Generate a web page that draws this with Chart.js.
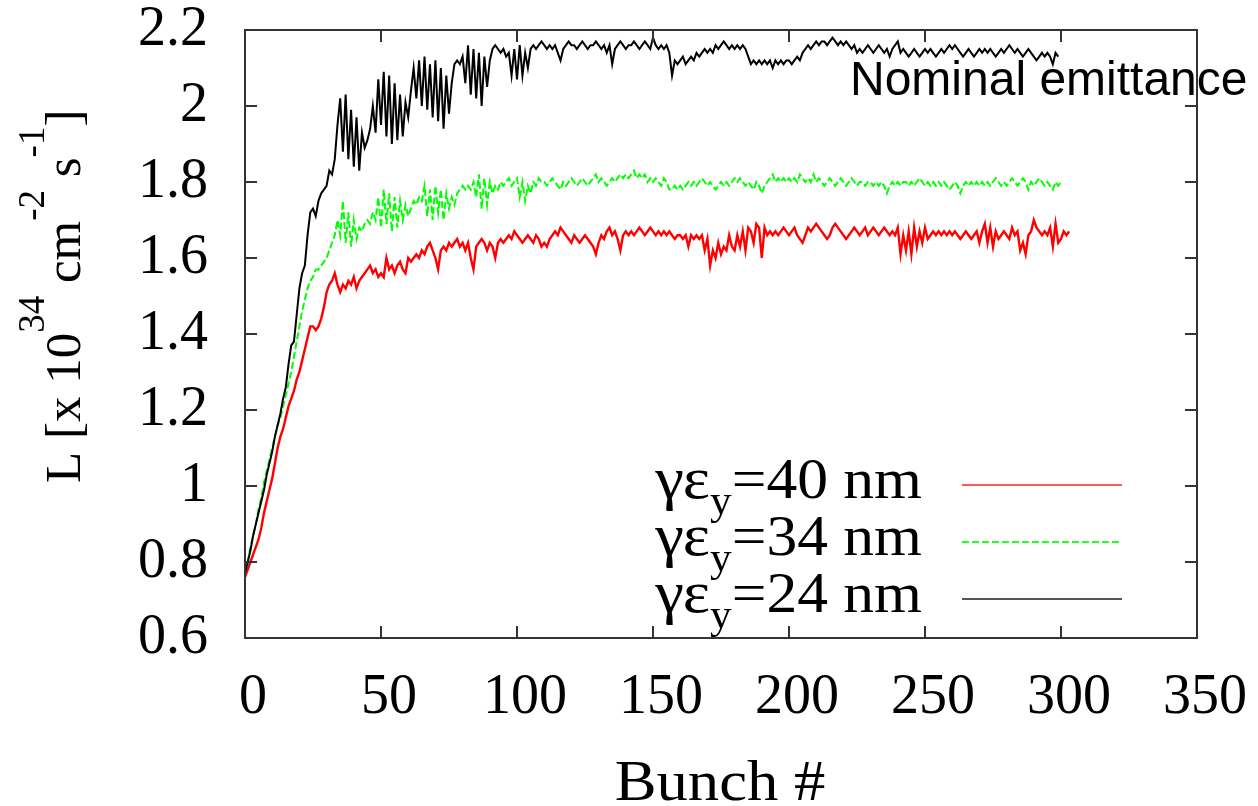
<!DOCTYPE html>
<html>
<head>
<meta charset="utf-8">
<script src="https://cdn.jsdelivr.net/npm/chart.js@4.4.0/dist/chart.umd.min.js"></script>
<style>
  html, body { margin: 0; padding: 0; background: #fff; }
  #wrap { width: 1258px; height: 806px; }
</style>
</head>
<body>
<div id="wrap"><canvas id="myChart" width="1258" height="806"></canvas></div>
<script>
// bunch number = index in each series
const xTicks = [0, 50, 100, 150, 200, 250, 300, 350];
const yTicks = [0.6, 0.8, 1.0, 1.2, 1.4, 1.6, 1.8, 2.0, 2.2];

const seriesLabels = ['40', '34', '24'];

// gamma eps_y = 24 nm (nominal emittance), bunches 0..299
const lum24 = [
  0.77, 0.80, 0.83, 0.87, 0.90, 0.93, 0.96, 0.99, 1.03, 1.06,
  1.09, 1.13, 1.16, 1.19, 1.23, 1.26, 1.32, 1.37, 1.38, 1.45,
  1.52, 1.56, 1.58, 1.66, 1.72, 1.73, 1.71, 1.75, 1.77, 1.78,
  1.79, 1.83, 1.82, 1.86, 1.95, 2.02, 1.88, 2.03, 1.86, 1.99,
  1.84, 1.97, 1.83, 1.93, 1.89, 1.91, 1.94, 2.00, 1.93, 2.07,
  1.95, 2.09, 1.92, 2.08, 1.90, 2.06, 1.91, 2.03, 1.92, 2.01,
  1.97, 2.04, 2.10, 2.02, 2.12, 2.00, 2.13, 1.99, 2.11, 1.97,
  2.12, 1.96, 2.10, 1.94, 2.08, 1.98, 2.06, 2.11, 2.12, 2.11,
  2.13, 2.06, 2.16, 2.03, 2.15, 2.02, 2.14, 2.00, 2.13, 2.05,
  2.12, 2.15, 2.16, 2.15, 2.14, 2.15, 2.13, 2.14, 2.08, 2.15,
  2.07, 2.16, 2.08, 2.14, 2.10, 2.15, 2.16, 2.15, 2.16, 2.17,
  2.16, 2.15, 2.16, 2.15, 2.16, 2.14, 2.12, 2.15, 2.16, 2.17,
  2.16, 2.16, 2.15, 2.16, 2.17, 2.16, 2.15, 2.16, 2.16, 2.17,
  2.16, 2.15, 2.16, 2.14, 2.16, 2.11, 2.15, 2.16, 2.17, 2.16,
  2.15, 2.16, 2.16, 2.17, 2.16, 2.15, 2.16, 2.17, 2.16, 2.15,
  2.18, 2.16, 2.15, 2.16, 2.15, 2.16, 2.14, 2.08, 2.12, 2.11,
  2.12, 2.13, 2.11, 2.12, 2.13, 2.12, 2.14, 2.13, 2.14, 2.15,
  2.14, 2.15, 2.14, 2.16, 2.15, 2.16, 2.17, 2.16, 2.15, 2.16,
  2.15, 2.16, 2.15, 2.16, 2.15, 2.13, 2.11, 2.12, 2.11, 2.12,
  2.11, 2.12, 2.11, 2.12, 2.10, 2.12, 2.11, 2.12, 2.11, 2.12,
  2.12, 2.11, 2.12, 2.13, 2.12, 2.14, 2.15, 2.16, 2.15, 2.16,
  2.17, 2.16, 2.17, 2.17, 2.16, 2.17, 2.18, 2.17, 2.16, 2.17,
  2.16, 2.17, 2.16, 2.15, 2.16, 2.14, 2.15, 2.14, 2.15, 2.16,
  2.15, 2.14, 2.15, 2.16, 2.15, 2.14, 2.15, 2.13, 2.15, 2.16,
  2.17, 2.14, 2.15, 2.14, 2.13, 2.14, 2.15, 2.14, 2.13, 2.14,
  2.15, 2.14, 2.15, 2.14, 2.13, 2.14, 2.15, 2.14, 2.15, 2.16,
  2.15, 2.16, 2.15, 2.14, 2.13, 2.14, 2.15, 2.14, 2.13, 2.14,
  2.15, 2.14, 2.15, 2.14, 2.15, 2.14, 2.13, 2.14, 2.15, 2.14,
  2.15, 2.16, 2.15, 2.14, 2.15, 2.14, 2.13, 2.14, 2.15, 2.14,
  2.13, 2.12, 2.13, 2.14, 2.13, 2.14, 2.13, 2.11, 2.14, 2.13
];

// gamma eps_y = 34 nm, bunches 0..300
const lum34 = [
  0.77, 0.80, 0.84, 0.87, 0.90, 0.94, 0.97, 1.01, 1.04, 1.07,
  1.10, 1.13, 1.16, 1.18, 1.21, 1.24, 1.27, 1.30, 1.34, 1.38,
  1.42, 1.46, 1.49, 1.52, 1.54, 1.55, 1.57, 1.57, 1.58, 1.59,
  1.60, 1.62, 1.64, 1.66, 1.70, 1.66, 1.75, 1.64, 1.72, 1.63,
  1.70, 1.65, 1.68, 1.67, 1.69, 1.70, 1.69, 1.72, 1.70, 1.76,
  1.68, 1.78, 1.69, 1.77, 1.67, 1.76, 1.68, 1.75, 1.70, 1.74,
  1.71, 1.73, 1.75, 1.74, 1.76, 1.75, 1.79, 1.71, 1.78, 1.70,
  1.79, 1.72, 1.78, 1.70, 1.77, 1.73, 1.76, 1.74, 1.77, 1.78,
  1.79, 1.78, 1.79, 1.78, 1.80, 1.76, 1.82, 1.73, 1.81, 1.74,
  1.80, 1.77, 1.79, 1.78, 1.80, 1.79, 1.80, 1.81, 1.79, 1.80,
  1.81, 1.76, 1.80, 1.75, 1.79, 1.77, 1.80, 1.79, 1.81, 1.80,
  1.80, 1.79, 1.80, 1.81, 1.80, 1.79, 1.78, 1.80, 1.79, 1.80,
  1.81, 1.80, 1.79, 1.80, 1.81, 1.80, 1.79, 1.80, 1.81, 1.82,
  1.80, 1.81, 1.80, 1.79, 1.80, 1.81, 1.80, 1.81, 1.82, 1.81,
  1.82, 1.81, 1.82, 1.83, 1.81, 1.82, 1.81, 1.82, 1.80, 1.81,
  1.80, 1.81, 1.80, 1.79, 1.81, 1.80, 1.78, 1.78, 1.79, 1.78,
  1.79, 1.78, 1.79, 1.80, 1.79, 1.80, 1.79, 1.80, 1.81, 1.80,
  1.79, 1.80, 1.79, 1.78, 1.79, 1.80, 1.79, 1.80, 1.79, 1.80,
  1.81, 1.80, 1.81, 1.80, 1.79, 1.80, 1.79, 1.78, 1.80, 1.79,
  1.77, 1.79, 1.80, 1.81, 1.82, 1.80, 1.81, 1.80, 1.81, 1.80,
  1.81, 1.80, 1.81, 1.80, 1.82, 1.81, 1.80, 1.81, 1.80, 1.82,
  1.80, 1.81, 1.80, 1.79, 1.80, 1.81, 1.80, 1.79, 1.80, 1.81,
  1.80, 1.79, 1.80, 1.81, 1.80, 1.79, 1.80, 1.80, 1.79, 1.80,
  1.80, 1.79, 1.80, 1.79, 1.80, 1.79, 1.77, 1.79, 1.80, 1.79,
  1.80, 1.79, 1.80, 1.80, 1.79, 1.80, 1.79, 1.80, 1.81, 1.80,
  1.79, 1.80, 1.79, 1.80, 1.79, 1.80, 1.79, 1.80, 1.79, 1.78,
  1.79, 1.80, 1.79, 1.77, 1.79, 1.80, 1.79, 1.80, 1.79, 1.80,
  1.79, 1.80, 1.79, 1.80, 1.79, 1.80, 1.81, 1.80, 1.79, 1.80,
  1.79, 1.80, 1.81, 1.80, 1.79, 1.80, 1.81, 1.80, 1.78, 1.80,
  1.79, 1.80, 1.81, 1.80, 1.79, 1.80, 1.79, 1.78, 1.80, 1.79,
  1.80
];

// gamma eps_y = 40 nm, bunches 0..303
const lum40 = [
  0.76, 0.78, 0.80, 0.82, 0.84, 0.86, 0.89, 0.93, 0.96, 0.99,
  1.02, 1.06, 1.10, 1.13, 1.15, 1.18, 1.21, 1.23, 1.25, 1.28,
  1.30, 1.33, 1.36, 1.39, 1.42, 1.42, 1.41, 1.42, 1.44, 1.47,
  1.51, 1.53, 1.54, 1.56, 1.53, 1.51, 1.53, 1.52, 1.54, 1.53,
  1.55, 1.52, 1.54, 1.55, 1.56, 1.57, 1.58, 1.56, 1.57, 1.55,
  1.56, 1.55, 1.60, 1.57, 1.58, 1.56, 1.58, 1.59, 1.57, 1.56,
  1.60, 1.59, 1.60, 1.61, 1.60, 1.62, 1.61, 1.63, 1.64, 1.62,
  1.60, 1.57, 1.62, 1.63, 1.62, 1.64, 1.63, 1.64, 1.65, 1.63,
  1.64, 1.62, 1.64, 1.60, 1.57, 1.63, 1.64, 1.65, 1.64, 1.62,
  1.64, 1.63, 1.60, 1.64, 1.65, 1.64, 1.65, 1.66, 1.65, 1.67,
  1.66, 1.65, 1.64, 1.65, 1.66, 1.65, 1.64, 1.66, 1.65, 1.63,
  1.64, 1.63, 1.65, 1.66, 1.67, 1.66, 1.68, 1.67, 1.66, 1.65,
  1.64, 1.66, 1.65, 1.64, 1.65, 1.66, 1.65, 1.64, 1.63, 1.61,
  1.64, 1.66, 1.65, 1.67, 1.68, 1.66, 1.67, 1.65, 1.62, 1.66,
  1.67, 1.66, 1.67, 1.66, 1.67, 1.68, 1.67, 1.66, 1.67, 1.68,
  1.67, 1.66, 1.67, 1.66, 1.67, 1.66, 1.67, 1.66, 1.65, 1.66,
  1.66, 1.65, 1.66, 1.63, 1.66, 1.65, 1.66, 1.65, 1.66, 1.62,
  1.65, 1.58, 1.62, 1.60, 1.64, 1.61, 1.63, 1.62, 1.66, 1.63,
  1.62, 1.66, 1.63, 1.67, 1.62, 1.68, 1.67, 1.64, 1.69, 1.68,
  1.60, 1.68, 1.66, 1.67, 1.66, 1.67, 1.66, 1.67, 1.68, 1.67,
  1.66, 1.67, 1.68, 1.66, 1.65, 1.64, 1.66, 1.68, 1.67, 1.68,
  1.69, 1.68, 1.67, 1.66, 1.65, 1.66, 1.68, 1.69, 1.68, 1.67,
  1.66, 1.65, 1.66, 1.67, 1.68, 1.67, 1.66, 1.67, 1.68, 1.66,
  1.67, 1.68, 1.67, 1.66, 1.67, 1.68, 1.67, 1.66, 1.67, 1.66,
  1.68, 1.61, 1.66, 1.62, 1.67, 1.61, 1.68, 1.63, 1.67, 1.64,
  1.68, 1.65, 1.66, 1.67, 1.66, 1.67, 1.66, 1.67, 1.66, 1.67,
  1.66, 1.67, 1.66, 1.65, 1.66, 1.67, 1.66, 1.65, 1.66, 1.67,
  1.64, 1.67, 1.69, 1.64, 1.68, 1.63, 1.67, 1.65, 1.66, 1.67,
  1.66, 1.65, 1.68, 1.66, 1.67, 1.62, 1.64, 1.61, 1.66, 1.67,
  1.70, 1.68, 1.67, 1.66, 1.67, 1.66, 1.68, 1.63, 1.69, 1.64,
  1.65, 1.67, 1.66, 1.67
];

const serif = '"Liberation Serif", "Times New Roman", serif';

function pts(arr) {
  return arr.map((v, i) => ({ x: i, y: v }));
}

// frame, inward ticks on all four sides, tick labels, titles, legend, note
const decor = {
  id: 'decor',
  afterDraw(chart) {
    const { ctx, chartArea: a, scales } = chart;
    const x = scales.x, y = scales.y;
    ctx.save();
    ctx.strokeStyle = '#333';
    ctx.lineWidth = 2;
    ctx.strokeRect(a.left, a.top, a.right - a.left, a.bottom - a.top);
    ctx.beginPath();
    const tl = 12;
    for (const t of xTicks) {
      const px = Math.round(x.getPixelForValue(t));
      ctx.moveTo(px, a.bottom); ctx.lineTo(px, a.bottom - tl);
      ctx.moveTo(px, a.top); ctx.lineTo(px, a.top + tl);
    }
    for (const t of yTicks) {
      const py = Math.round(y.getPixelForValue(t));
      ctx.moveTo(a.left, py); ctx.lineTo(a.left + tl, py);
      ctx.moveTo(a.right, py); ctx.lineTo(a.right - tl, py);
    }
    ctx.stroke();

    ctx.fillStyle = '#000';
    // tick labels
    ctx.font = '56px ' + serif;
    ctx.textBaseline = 'middle';
    ctx.textAlign = 'center';
    for (const t of xTicks) {
      ctx.fillText(String(t), x.getPixelForValue(t) + 8, 698);
    }
    ctx.textAlign = 'right';
    for (const t of yTicks) {
      ctx.fillText(String(+t.toFixed(1)), 208, y.getPixelForValue(t));
    }

    // x title
    ctx.save();
    ctx.font = '58px ' + serif;
    ctx.textAlign = 'center';
    ctx.textBaseline = 'alphabetic';
    ctx.translate(720, 800);
    ctx.scale(1.08, 1);
    ctx.fillText('Bunch #', 0, 0);
    ctx.restore();

    // y title with superscripts, rotated
    const main = '51px ' + serif, sup = '37px ' + serif;
    const parts = [
      ['L [x 10', main, 0], ['34', sup, -36], [' cm', main, 0], ['-2', sup, -36],
      [' s', main, 0], ['-1', sup, -36], [']', main, 0]
    ];
    ctx.save();
    ctx.textBaseline = 'alphabetic';
    ctx.translate(80, 483);
    ctx.rotate(-Math.PI / 2);
    ctx.textAlign = 'left';
    let cx = 0;
    for (const [s, f, dy] of parts) {
      ctx.font = f;
      ctx.fillText(s, cx, dy);
      cx += ctx.measureText(s).width;
    }
    ctx.restore();

    // legend
    const order = [2, 1, 0]; // red, green, black rows
    const rows = [498, 555, 612];
    const legendCol = ['#ff5a5a', '#22ff22', '#555'];
    const lmain = '57px ' + serif, lgreek = '60px ' + serif, lsub = '40px ' + serif;
    const stretch = 1.08;
    ctx.textBaseline = 'alphabetic';
    order.forEach((di, r) => {
      const ds = chart.data.datasets[di];
      const base = rows[r];
      const pieces = [['γε', lgreek, 0], ['y', lsub, 16], ['=' + seriesLabels[r] + ' nm', lmain, 0]];
      let w = 0;
      for (const [s, f] of pieces) { ctx.font = f; w += ctx.measureText(s).width; }
      ctx.save();
      ctx.translate(922 - w * stretch, 0);
      ctx.scale(stretch, 1);
      let px = 0;
      ctx.textAlign = 'left';
      for (const [s, f, dy] of pieces) {
        ctx.font = f;
        ctx.fillText(s, px, base + dy);
        px += ctx.measureText(s).width;
      }
      ctx.restore();
      ctx.beginPath();
      ctx.strokeStyle = legendCol[r];
      ctx.lineWidth = 2;
      ctx.setLineDash(ds.borderDash || []);
      ctx.moveTo(962, base - 13);
      ctx.lineTo(1122, base - 13);
      ctx.stroke();
      ctx.setLineDash([]);
    });

    // annotation
    ctx.font = '48px "Liberation Sans", Arial, sans-serif';
    ctx.textAlign = 'left';
    ctx.fillText('Nominal emittance', 850, 95);
    ctx.restore();
  }
};

const ctx = document.getElementById('myChart');
const myChart = new Chart(ctx, {
  type: 'line',
  data: {
    datasets: [
      { label: '24 nm', data: pts(lum24), borderColor: '#000000', borderWidth: 2, pointRadius: 0 },
      { label: '34 nm', data: pts(lum34), borderColor: '#00ff00', borderWidth: 2, borderDash: [7, 3], pointRadius: 0 },
      { label: '40 nm', data: pts(lum40), borderColor: '#ff0000', borderWidth: 2.4, pointRadius: 0 }
    ]
  },
  options: {
    responsive: false,
    animation: false,
    events: [],
    layout: { padding: { top: 30, right: 61, left: 0, bottom: 0 } },
    plugins: { legend: { display: false }, tooltip: { enabled: false } },
    scales: {
      x: {
        type: 'linear',
        min: 0, max: 350,
        afterFit(s) { s.height = 168; },
        ticks: { display: false },
        grid: { display: false, drawTicks: false },
        border: { display: false }
      },
      y: {
        min: 0.6, max: 2.2,
        afterFit(s) { s.width = 245; },
        ticks: { display: false },
        grid: { display: false, drawTicks: false },
        border: { display: false }
      }
    }
  },
  plugins: [decor]
});
</script>
</body>
</html>
